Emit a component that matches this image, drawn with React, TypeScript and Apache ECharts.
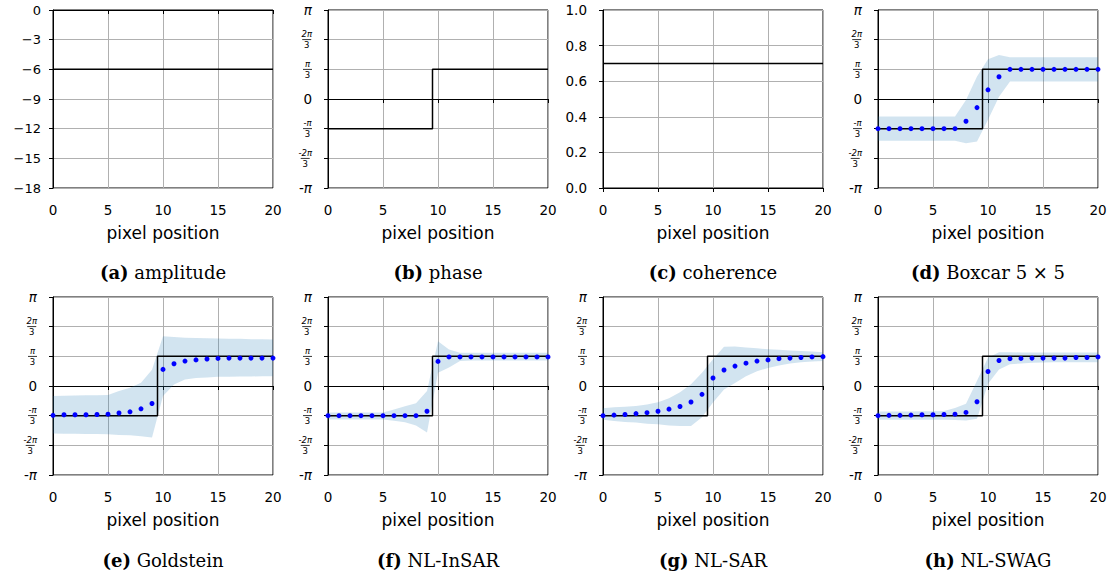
import React, { useEffect, useRef } from "react";
import * as echarts from "echarts";

// pixel positions (x)
const positions = [0, 1, 2, 3, 4, 5, 6, 7, 8, 9, 10, 11, 12, 13, 14, 15, 16, 17, 18, 19, 20];

// (a) amplitude (dB), (c) coherence
const amplitudeTruth = [-6, -6, -6, -6, -6, -6, -6, -6, -6, -6, -6, -6, -6, -6, -6, -6, -6, -6, -6, -6, -6];
const coherenceTruth = [0.7, 0.7, 0.7, 0.7, 0.7, 0.7, 0.7, 0.7, 0.7, 0.7, 0.7, 0.7, 0.7, 0.7, 0.7, 0.7, 0.7, 0.7, 0.7, 0.7, 0.7];

// phase values below are in units of π/3
const phaseTruth = [-1, -1, -1, -1, -1, -1, -1, -1, -1, -1, 1, 1, 1, 1, 1, 1, 1, 1, 1, 1, 1];

const boxcarMean = [-1, -1, -1, -1, -1, -1, -1, -1, -0.75, -0.29, 0.31, 0.75, 1, 1, 1, 1, 1, 1, 1, 1, 1];
const boxcarLower = [-1.41, -1.41, -1.41, -1.41, -1.41, -1.41, -1.41, -1.41, -1.49, -1.43, -0.7, 0.08, 0.59, 0.59, 0.59, 0.59, 0.59, 0.59, 0.59, 0.59, 0.59];
const boxcarUpper = [-0.59, -0.59, -0.59, -0.59, -0.59, -0.59, -0.59, -0.59, -0.03, 0.76, 1.34, 1.48, 1.41, 1.41, 1.41, 1.41, 1.41, 1.41, 1.41, 1.41, 1.41];

const goldsteinMean = [-0.99, -0.97, -0.97, -0.97, -0.96, -0.95, -0.91, -0.87, -0.77, -0.59, 0.56, 0.75, 0.84, 0.88, 0.91, 0.93, 0.94, 0.94, 0.94, 0.94, 0.94];
const goldsteinLower = [-1.6, -1.61, -1.61, -1.62, -1.62, -1.63, -1.65, -1.66, -1.69, -1.74, -0.34, 0.05, 0.22, 0.27, 0.29, 0.31, 0.31, 0.32, 0.32, 0.33, 0.33];
const goldsteinUpper = [-0.34, -0.33, -0.32, -0.31, -0.31, -0.3, -0.17, -0.06, 0.11, 0.55, 1.68, 1.65, 1.63, 1.62, 1.61, 1.6, 1.59, 1.59, 1.58, 1.58, 1.57];

const nlinsarMean = [-1, -1, -1, -1, -1, -1, -1, -1, -1, -0.85, 0.83, 0.98, 0.98, 0.98, 0.98, 0.98, 0.98, 0.98, 0.98, 0.98, 0.98];
const nlinsarLower = [-1.13, -1.13, -1.13, -1.13, -1.13, -1.13, -1.17, -1.22, -1.33, -1.57, 0.45, 0.62, 0.84, 0.86, 0.86, 0.86, 0.86, 0.86, 0.86, 0.86, 0.86];
const nlinsarUpper = [-0.89, -0.89, -0.89, -0.89, -0.89, -0.89, -0.79, -0.68, -0.58, -0.17, 1.51, 1.23, 1.12, 1.12, 1.12, 1.12, 1.12, 1.12, 1.12, 1.12, 1.12];

const nlsarMean = [-1, -0.98, -0.96, -0.93, -0.9, -0.85, -0.78, -0.69, -0.54, -0.28, 0.27, 0.54, 0.67, 0.77, 0.84, 0.88, 0.92, 0.94, 0.96, 0.98, 0.99];
const nlsarLower = [-1.14, -1.18, -1.21, -1.23, -1.27, -1.29, -1.33, -1.35, -1.35, -1.05, -0.56, -0.12, 0.1, 0.33, 0.5, 0.61, 0.69, 0.76, 0.8, 0.83, 0.84];
const nlsarUpper = [-0.75, -0.72, -0.7, -0.67, -0.62, -0.55, -0.41, -0.21, 0.06, 0.45, 0.9, 1.32, 1.33, 1.3, 1.27, 1.24, 1.22, 1.2, 1.18, 1.16, 1.14];

const nlswagMean = [-1, -0.99, -0.99, -0.98, -0.97, -0.97, -0.96, -0.95, -0.89, -0.53, 0.49, 0.86, 0.92, 0.93, 0.94, 0.94, 0.94, 0.94, 0.96, 0.96, 0.98];
const nlswagLower = [-1.14, -1.14, -1.14, -1.14, -1.14, -1.14, -1.14, -1.15, -1.16, -1.1, 0.08, 0.56, 0.73, 0.76, 0.78, 0.79, 0.8, 0.8, 0.8, 0.8, 0.8];
const nlswagUpper = [-0.86, -0.86, -0.86, -0.86, -0.85, -0.85, -0.84, -0.74, -0.6, 0.18, 0.95, 1.14, 1.14, 1.13, 1.13, 1.13, 1.13, 1.13, 1.13, 1.13, 1.13];

// captions
const captionTags = ["(a)", "(b)", "(c)", "(d)", "(e)", "(f)", "(g)", "(h)"];
const captionNames = ["amplitude", "phase", "coherence", "Boxcar 5 × 5", "Goldstein", "NL-InSAR", "NL-SAR", "NL-SWAG"];

// tick labels
const xTicks = { min: 0, max: 20, interval: 5 };
const phaseTickLabels = [
  "{z|-}{pi|π}",
  "{m|-}{n|2π}\n{bar| }\n{d|3}",
  "{m|-}{n|π}\n{bar| }\n{d|3}",
  "{z|0}",
  "{n|π}\n{bar| }\n{d|3}",
  "{n|2π}\n{bar| }\n{d|3}",
  "{pi|π}",
];

const xAxisName = "pixel position";

const LEFTS = [53, 328, 603, 878];
const TOPS = [10, 297];
const W = 220;
const H = 178;
const CAPTION_Y = [272, 560];

const SANS = "DejaVu Sans";
const SERIF = "DejaVu Serif";
const BAND_FILL = "rgba(31,119,180,0.2)";

export default function App() {
  const ref = useRef<HTMLDivElement>(null);
  useEffect(() => {
    if (!ref.current) return;
    const chart = echarts.init(ref.current, undefined, { renderer: "svg" });

    const grids: any[] = [];
    const xAxes: any[] = [];
    const yAxes: any[] = [];
    const series: any[] = [];
    const graphics: any[] = [];

    for (let i = 0; i < 8; i++) {
      const col = i % 4;
      const row = Math.floor(i / 4);
      grids.push({
        left: LEFTS[col],
        top: TOPS[row],
        width: W,
        height: H,
        show: true,
        borderColor: "#000",
        borderWidth: 1,
        backgroundColor: "transparent",
        containLabel: false,
      });
      xAxes.push({
        type: "value",
        gridIndex: i,
        min: xTicks.min,
        max: xTicks.max,
        interval: xTicks.interval,
        name: xAxisName,
        nameLocation: "middle",
        nameGap: 36,
        nameTextStyle: { fontFamily: SANS, fontSize: 17, color: "#000" },
        axisLine: { show: true, lineStyle: { color: "#000", width: 1 } },
        axisTick: { show: true, inside: false, length: 4, lineStyle: { color: "#000" } },
        axisLabel: { fontFamily: SANS, fontSize: 13.5, color: "#000", margin: 15 },
        splitLine: { show: true, lineStyle: { color: "#b0b0b0", width: 1 } },
      });
      const baseY: any = {
        type: "value",
        gridIndex: i,
        axisLine: { show: true, lineStyle: { color: "#000", width: 1 } },
        axisTick: { show: true, inside: false, length: 4, lineStyle: { color: "#000" } },
        splitLine: { show: true, lineStyle: { color: "#b0b0b0", width: 1 } },
      };
      if (i === 0) {
        yAxes.push({
          ...baseY,
          min: -18,
          max: 0,
          interval: 3,
          axisLabel: {
            fontFamily: SANS,
            fontSize: 13,
            color: "#000",
            margin: 12,
            formatter: (v: number) => (v < 0 ? "\u2212" + Math.abs(v) : String(v)),
          },
        });
      } else if (i === 2) {
        yAxes.push({
          ...baseY,
          min: 0,
          max: 1,
          interval: 0.2,
          axisLabel: {
            fontFamily: SANS,
            fontSize: 13.5,
            color: "#000",
            margin: 16,
            formatter: (v: number) => v.toFixed(1),
          },
        });
      } else {
        yAxes.push({
          ...baseY,
          min: -3,
          max: 3,
          interval: 1,
          axisLabel: {
            fontFamily: SANS,
            fontSize: 13.5,
            color: "#000",
            margin: 16,
            formatter: (v: number) => phaseTickLabels[Math.round(v) + 3],
            rich: {
              z: { fontFamily: SANS, fontSize: 13.5, color: "#000" },
              pi: { fontFamily: SANS, fontSize: 13.5, fontStyle: "italic", color: "#000" },
              n: { fontFamily: SANS, fontSize: 8.5, fontStyle: "italic", lineHeight: 9, align: "center", color: "#000" },
              d: { fontFamily: SANS, fontSize: 8.5, lineHeight: 9, align: "center", color: "#000" },
              m: { fontFamily: SANS, fontSize: 8.5, lineHeight: 9, align: "center", verticalAlign: "bottom", color: "#000" },
              bar: { fontSize: 1, lineHeight: 2, height: 0.8, width: 9, backgroundColor: "#000", align: "center" },
            },
          },
        });
      }

      graphics.push({
        type: "text",
        x: LEFTS[col] + W / 2,
        y: CAPTION_Y[row],
        style: {
          text: "{b|" + captionTags[i] + "} " + captionNames[i],
          fontFamily: SERIF,
          fontSize: 18,
          fill: "#000",
          align: "center",
          verticalAlign: "middle",
          rich: {
            b: { fontFamily: SERIF, fontSize: 18, fontWeight: "bold", fill: "#000" },
          },
        },
      });
    }

    const pairs = (vals: number[]) => positions.map((x, k) => [x, vals[k]]);

    // (a), (b), (c)
    series.push({
      type: "line", xAxisIndex: 0, yAxisIndex: 0, data: pairs(amplitudeTruth),
      symbol: "none", lineStyle: { color: "#000", width: 1.5 }, itemStyle: { color: "#000" }, z: 3,
    });
    series.push({
      type: "line", xAxisIndex: 1, yAxisIndex: 1, data: pairs(phaseTruth), step: "middle",
      symbol: "none", lineStyle: { color: "#000", width: 1.5 }, itemStyle: { color: "#000" }, z: 3,
    });
    series.push({
      type: "line", xAxisIndex: 2, yAxisIndex: 2, data: pairs(coherenceTruth),
      symbol: "none", lineStyle: { color: "#000", width: 1.5 }, itemStyle: { color: "#000" }, z: 3,
    });

    const estimates = [
      { idx: 3, mean: boxcarMean, lower: boxcarLower, upper: boxcarUpper },
      { idx: 4, mean: goldsteinMean, lower: goldsteinLower, upper: goldsteinUpper },
      { idx: 5, mean: nlinsarMean, lower: nlinsarLower, upper: nlinsarUpper },
      { idx: 6, mean: nlsarMean, lower: nlsarLower, upper: nlsarUpper },
      { idx: 7, mean: nlswagMean, lower: nlswagLower, upper: nlswagUpper },
    ];
    for (const e of estimates) {
      const bandData = positions.map((x, k) => [x, e.lower[k], e.upper[k]]);
      series.push({
        type: "custom",
        xAxisIndex: e.idx,
        yAxisIndex: e.idx,
        data: bandData,
        encode: { x: 0, y: [1, 2] },
        silent: true,
        z: 1,
        renderItem: (params: any, api: any) => {
          if (params.dataIndex !== 0) return { type: "group", children: [] };
          const lowerPts = bandData.map((d) => api.coord([d[0], d[1]]));
          const upperPts = bandData.map((d) => api.coord([d[0], d[2]])).reverse();
          return {
            type: "polygon",
            shape: { points: lowerPts.concat(upperPts) },
            style: { fill: BAND_FILL, stroke: "none" },
          };
        },
      });
      series.push({
        type: "line", xAxisIndex: e.idx, yAxisIndex: e.idx, data: pairs(phaseTruth), step: "middle",
        symbol: "none", lineStyle: { color: "#000", width: 1.5 }, itemStyle: { color: "#000" }, z: 3,
      });
      series.push({
        type: "scatter", xAxisIndex: e.idx, yAxisIndex: e.idx, data: pairs(e.mean),
        symbol: "circle", symbolSize: 5, itemStyle: { color: "#0000ff", opacity: 1 }, z: 4,
      });
    }

    chart.setOption({
      animation: false,
      backgroundColor: "#fff",
      grid: grids,
      xAxis: xAxes,
      yAxis: yAxes,
      series,
      graphic: graphics,
    });
    return () => chart.dispose();
  }, []);

  return (
    <div
      ref={ref}
      style={{ position: "absolute", left: 0, top: 0, width: 1118, height: 579, background: "#fff" }}
    />
  );
}
